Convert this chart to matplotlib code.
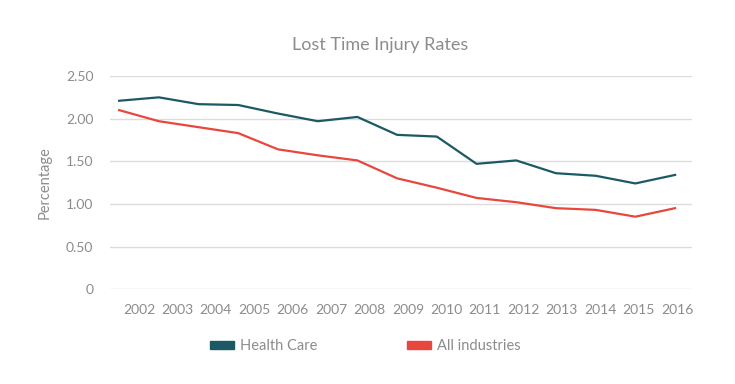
import matplotlib
matplotlib.use("Agg")
import matplotlib.pyplot as plt
import matplotlib.patches as mpatches
import numpy as np

plt.rcParams['font.family'] = ['Lato', 'DejaVu Sans']

years = ['2002', '2003', '2004', '2005', '2006', '2007', '2008', '2009',
         '2010', '2011', '2012', '2013', '2014', '2015', '2016']
health_care = [2.21, 2.25, 2.17, 2.16, 2.06, 1.97, 2.02, 1.81, 1.79,
               1.47, 1.51, 1.36, 1.33, 1.24, 1.34]
all_industries = [2.10, 1.97, 1.90, 1.83, 1.64, 1.57, 1.51, 1.30, 1.19,
                  1.07, 1.02, 0.95, 0.93, 0.85, 0.95]
y_ticks = [0, 0.5, 1.0, 1.5, 2.0, 2.5]
y_labels = ['0', '0.50', '1.00', '1.50', '2.00', '2.50']

teal = '#1b5a64'
red = '#e8473d'
grey = '#8c8c8c'

fig = plt.figure(figsize=(7.35, 3.84), dpi=100)
ax = fig.add_axes([0.1497, 0.247, 0.792, 0.555])

x = np.arange(len(years))
ax.plot(x, health_care, color=teal, lw=1.6)
ax.plot(x, all_industries, color=red, lw=1.6)

ax.set_ylim(0, 2.5)
ax.set_xlim(-0.23, 14.43)
ax.set_yticks(y_ticks)
ax.set_yticklabels(y_labels)
# tick labels in the source sit slightly offset from the data points
ax.set_xticks(np.linspace(0.5, 14.05, len(years)))
ax.set_xticklabels(years)

ax.grid(axis='y', color='#dcdcdc', lw=1)
ax.set_axisbelow(True)
for s in ax.spines.values():
    s.set_visible(False)
ax.tick_params(length=0, colors=grey, labelsize=10)
ax.tick_params(axis='y', pad=12)
ax.tick_params(axis='x', pad=11)

ax.set_ylabel('Percentage', color=grey, fontsize=10.5, labelpad=10)
fig.text(0.517, 0.883, 'Lost Time Injury Rates', color=grey, fontsize=13,
         ha='center', va='center')

handles = [mpatches.Patch(color=teal, label='Health Care'),
           mpatches.Patch(color=red, label='All industries')]
fig.legend(handles=handles, loc='center', bbox_to_anchor=(0.497, 0.099),
           ncol=2, frameon=False, fontsize=10.5, labelcolor=grey,
           handlelength=1.65, handleheight=0.45, columnspacing=6.1,
           handletextpad=0.45)

fig.savefig('out.png', dpi=100)
